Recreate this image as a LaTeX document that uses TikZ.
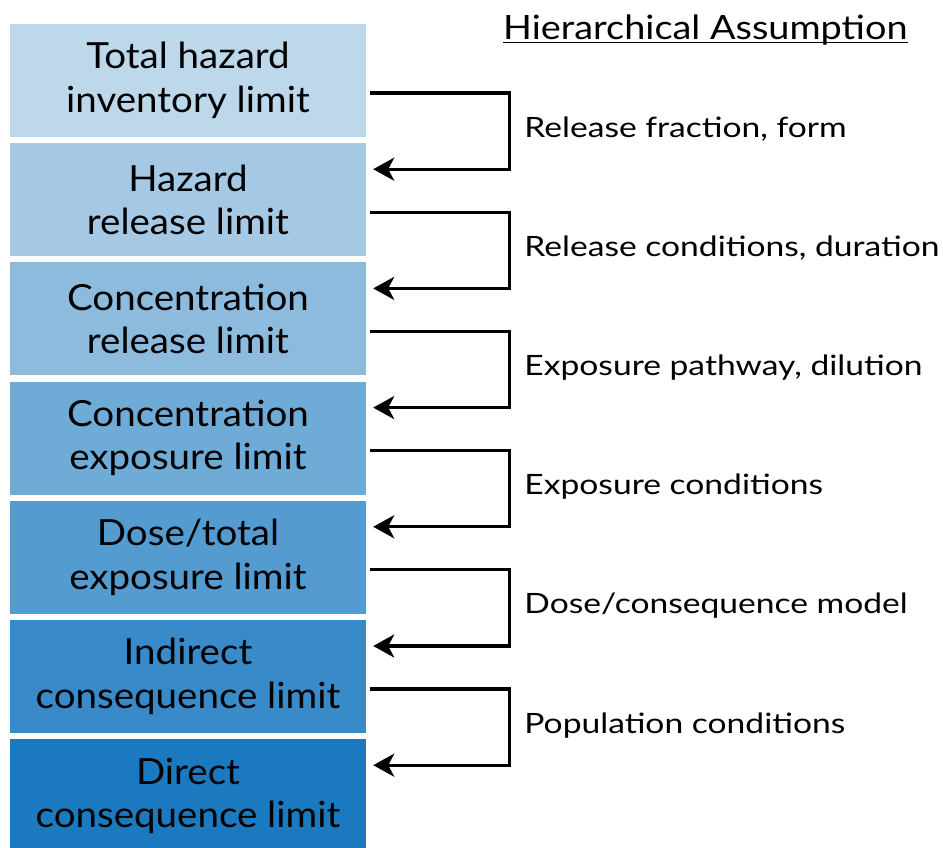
\documentclass[tikz,border=0pt]{standalone}
\usepackage{fontspec}
\setmainfont{Lato}
\newfontfamily\boxfont[FakeStretch=1.07]{Lato}
\newfontfamily\notefont[FakeStretch=1.2]{Lato}
\newfontfamily\titlefont[FakeStretch=1.13]{Lato}
\usetikzlibrary{arrows.meta,calc}
\definecolor{c1}{RGB}{190,216,235}
\definecolor{c2}{RGB}{165,201,228}
\definecolor{c3}{RGB}{140,187,222}
\definecolor{c4}{RGB}{111,171,215}
\definecolor{c5}{RGB}{84,155,208}
\definecolor{c6}{RGB}{56,138,200}
\definecolor{c7}{RGB}{27,121,191}
\tikzset{
  level/.style={rectangle, fill=#1, minimum width=356pt, minimum height=113pt,
    inner sep=0pt, align=center, font=\boxfont\fontsize{36}{43.5}\selectfont},
  link/.style={line width=3.2pt, -{Stealth[length=21pt,width=23pt,inset=6pt]}},
  note/.style={anchor=base west, inner sep=0pt, font=\notefont\fontsize{28}{32}\selectfont},
}
\begin{document}
\begin{tikzpicture}[x=1pt,y=-1pt]
\clip (0,0) rectangle (943,848);
\fill[white] (0,0) rectangle (943,848);
% stacked limit levels, lightest at the top
\node[level=c1] (b1) at (188,80.5) {Total hazard\\inventory limit};
\node[level=c2] (b2) at (188,199.7) {Hazard\\release limit};
\node[level=c3] (b3) at (188,318.9) {Concentration\\release limit};
\node[level=c4] (b4) at (188,438.1) {Concentration\\exposure limit};
\node[level=c5] (b5) at (188,557.3) {Dose/total\\exposure limit};
\node[level=c6] (b6) at (188,676.5) {Indirect\\consequence limit};
\node[level=c7] (b7) at (188,795.7) {Direct\\consequence limit};
% column heading with its underline just under the baseline
\node[anchor=base west, inner sep=0pt, font=\titlefont\fontsize{33.5}{40}\selectfont] (title) at (503,40)
  {Hierarchical Assumption};
\draw[line width=1.5pt] ([shift={(0,2.6)}]title.base west) -- ([shift={(0,2.6)}]title.base east);
% bracket arrows from each level to the next, with the assumption between
\foreach \a/\b/\t in {b1/b2/{Release fraction, form},
                       b2/b3/{Release conditions, duration},
                       b3/b4/{Exposure pathway, dilution},
                       b4/b5/{Exposure conditions},
                       b5/b6/{Dose/consequence model},
                       b6/b7/{Population conditions}}{
  \draw[link] ([shift={(4,12.5)}]\a.east) -- ++(139,0) |- ([shift={(7,-30.5)}]\b.east);
  \node[note] (n\a) at ($(\a.east)!0.5!(\b.east)+(158,-3)$) {\t};
}
\end{tikzpicture}
\end{document}
